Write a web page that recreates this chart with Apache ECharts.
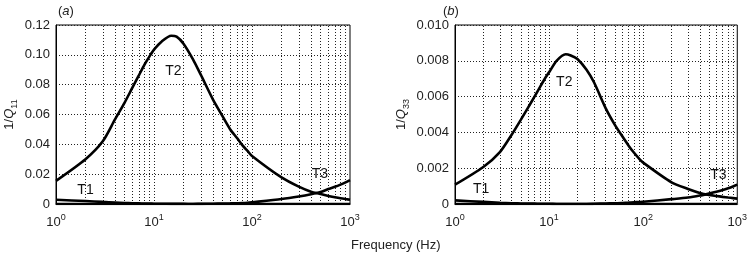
<!DOCTYPE html>
<html><head><meta charset="utf-8">
<script src="https://cdn.jsdelivr.net/npm/echarts@6/dist/echarts.min.js"></script>
<style>html,body{margin:0;padding:0;background:#fff}#c{width:750px;height:256px}</style>
</head><body><div id="c"></div>
<script>
const freqs = [1,2,3,4,5,6,7,8,9,10,12,15,17,20,25,30,40,50,60,70,80,90,100,200,300,400,500,600,700,800,900,1000];
// panel (a) 1/Q11
const a_T2 = [0.0155,0.030,0.042,0.0567,0.0678,0.0778,0.0862,0.0935,0.0990,0.1035,0.1090,0.1128,0.1122,0.1075,0.0970,0.0867,0.0700,0.0589,0.0500,0.0444,0.0393,0.0356,0.0322,0.0178,0.0116,0.0082,0.0067,0.0054,0.0045,0.0038,0.0033,0.0029];
const a_T1 = [0.0028,0.0020,0.0014,0.0010,0.0007,0.0005,0.0004,0.0003,0.00025,0.0002,0.00015,0.0001,0.0001,0.0001,0,0,0,0,0,0,0,0,0,0,0,0,0,0,0,0,0,0];
const a_T3 = [0,0,0,0,0,0,0,0,0,0,0,0,0,0,0,0.0001,0.0002,0.0003,0.0004,0.0005,0.0006,0.0008,0.0011,0.0033,0.0050,0.0065,0.0080,0.0100,0.0115,0.0130,0.0145,0.0160];
// panel (b) 1/Q33
const b_T2 = [0.00108,0.00207,0.0029,0.00387,0.0047,0.0054,0.0060,0.00653,0.0070,0.00736,0.0080,0.00837,0.0083,0.0081,0.0075,0.0068,0.00534,0.00442,0.00378,0.00326,0.00286,0.00255,0.00231,0.00121,0.00084,0.00062,0.00051,0.00045,0.0004,0.00036,0.00033,0.0003];
const b_T1 = [0.0002,0.00012,0.00007,0.00004,0.00003,0.00002,0.00002,0.00001,0.00001,0.00001,0,0,0,0,0,0,0,0,0,0,0,0,0,0,0,0,0,0,0,0,0,0];
const b_T3 = [0,0,0,0,0,0,0,0,0,0,0,0,0,0,0,0.00001,0.00003,0.00004,0.00006,0.00008,0.0001,0.00011,0.00013,0.00027,0.00036,0.00047,0.00058,0.00068,0.00078,0.00088,0.00098,0.00108];
const gridFreqs = [2,3,4,5,6,7,8,9,10,20,30,40,50,60,70,80,90,100,200,300,400,500,600,700,800,900];
const xMin = 1, xMax = 1000;
const aYMax = 0.12, aYStep = 0.02;
const bYMax = 0.010, bYStep = 0.002;
const aLabels = [{name:'T1', f:2.0, v:0.0093},{name:'T2', f:15.8, v:0.089},{name:'T3', f:494, v:0.020}];
const bLabels = [{name:'T1', f:1.9, v:0.00084},{name:'T2', f:14.5, v:0.00681},{name:'T3', f:629, v:0.00159}];

const FONT = 'Liberation Sans, Arial, Helvetica, sans-serif';
const TXT = '#222';
const chart = echarts.init(document.getElementById('c'));

function xAxis(idx){
  return {type:'log', gridIndex:idx, min:xMin, max:xMax, logBase:10,
    axisLine:{show:true, lineStyle:{color:'#666', width:2}},
    axisTick:{show:false}, splitLine:{show:false},
    axisLabel:{margin:9, fontFamily:FONT, color:TXT,
      formatter: v => '{b|10}{s|' + Math.round(Math.log10(v)) + '}',
      rich:{b:{fontSize:13, fontFamily:FONT, color:TXT, verticalAlign:'bottom'},
            s:{fontSize:9, fontFamily:FONT, color:TXT, verticalAlign:'bottom', padding:[0,0,7,0]}}}};
}
function yAxis(idx, max, step, dec, gap){
  return {type:'value', gridIndex:idx, min:0, max:max, interval:step,
    axisLine:{show:true, lineStyle:{color:'#000', width:1}},
    axisTick:{show:false},
    splitLine:{show:true, lineStyle:{color:'#222', type:[1,2], width:1}},
    axisLabel:{margin:6, fontFamily:FONT, fontSize:13, color:TXT,
      formatter: v => v === 0 ? '0' : v.toFixed(dec)},
    name:'{n|1/}{i|Q}{sub|' + (idx===0?'11':'33') + '}', nameLocation:'middle', nameRotate:90, nameGap:gap,
    nameTextStyle:{rich:{n:{fontSize:13,fontFamily:FONT,color:TXT,verticalAlign:'bottom'},
      i:{fontSize:13,fontFamily:FONT,fontStyle:'italic',color:TXT,verticalAlign:'bottom'},
      sub:{fontSize:9,fontFamily:FONT,color:TXT,verticalAlign:'bottom',padding:[0,0,-3,0]}}}};
}
function line(name, vals, idx, extra){
  const s = {type:'line', name:name, xAxisIndex:idx, yAxisIndex:idx, showSymbol:false, symbol:'none',
    smooth:0.25,
    data: freqs.map((f,i)=>[f, vals[i]]), lineStyle:{color:'#000', width:2.6}, z:5, silent:true, animation:false};
  return Object.assign(s, extra||{});
}
function labelsMP(list){
  return {symbol:'circle', symbolSize:0, silent:true, animation:false,
    label:{show:true, position:'inside', fontSize:14, fontFamily:FONT, color:'#111', formatter: p => p.name},
    data:list.map(l=>({name:l.name, coord:[l.f, l.v]}))};
}
function gridLinesML(){
  return {symbol:['none','none'], silent:true, animation:false, label:{show:false},
    lineStyle:{color:'#222', type:[1,2], width:1},
    data:gridFreqs.map(f=>({xAxis:f}))};
}
const titleRich = {n:{fontSize:13,fontFamily:FONT,fontWeight:'normal',color:TXT}, i:{fontSize:13,fontFamily:FONT,fontStyle:'italic',fontWeight:'normal',color:TXT}};
chart.setOption({
  animation:false,
  backgroundColor:'#fff',
  title:[
    {text:'{n|(}{i|a}{n|)}', left:53, top:0, textStyle:{fontWeight:'normal', rich:titleRich}},
    {text:'{n|(}{i|b}{n|)}', left:438, top:0, textStyle:{fontWeight:'normal', rich:titleRich}}
  ],
  graphic:[{type:'text', left:351, top:239, style:{text:'Frequency (Hz)', font:'13px '+FONT, fill:TXT}}],
  grid:[
    {left:56, right:400, top:25, bottom:52, show:true, borderColor:'#000', borderWidth:1},
    {left:455, right:11, top:25, bottom:52, show:true, borderColor:'#000', borderWidth:1}
  ],
  xAxis:[xAxis(0), xAxis(1)],
  yAxis:[yAxis(0, aYMax, aYStep, 2, 40), yAxis(1, bYMax, bYStep, 3, 47)],
  series:[
    line('gridA', freqs.map(()=>null), 0, {markLine:gridLinesML(), z:1}),
    line('T1a', a_T1, 0),
    line('T2a', a_T2, 0, {markPoint:labelsMP(aLabels)}),
    line('T3a', a_T3, 0),
    line('gridB', freqs.map(()=>null), 1, {markLine:gridLinesML(), z:1}),
    line('T1b', b_T1, 1),
    line('T2b', b_T2, 1, {markPoint:labelsMP(bLabels)}),
    line('T3b', b_T3, 1)
  ]
});
</script></body></html>
